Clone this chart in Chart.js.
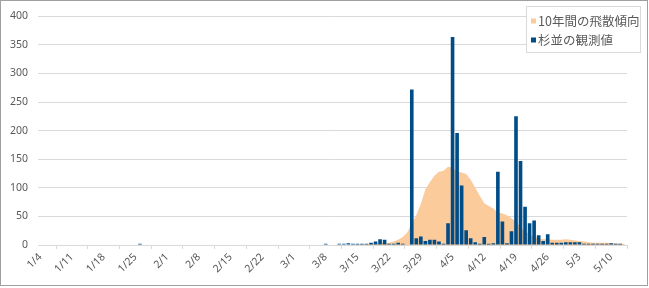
<!DOCTYPE html>
<html><head><meta charset="utf-8">
<script src="https://cdn.jsdelivr.net/npm/chart.js@4"></script>
<style>
html,body{margin:0;padding:0;background:#fff}
#wrap{position:relative;width:649px;height:288px}
#frame{position:absolute;left:0;top:0;width:646px;height:284px;border:1px solid #a0a0a0;pointer-events:none}
canvas{position:absolute;left:0;top:0}
</style></head>
<body><div id="wrap"><canvas id="c" width="649" height="288"></canvas><div id="frame"></div></div>
<script>
const categories = [
'1/4','1/5','1/6','1/7','1/8','1/9','1/10','1/11','1/12','1/13','1/14','1/15','1/16','1/17','1/18','1/19','1/20','1/21','1/22','1/23','1/24','1/25','1/26','1/27','1/28','1/29','1/30','1/31',
'2/1','2/2','2/3','2/4','2/5','2/6','2/7','2/8','2/9','2/10','2/11','2/12','2/13','2/14','2/15','2/16','2/17','2/18','2/19','2/20','2/21','2/22','2/23','2/24','2/25','2/26','2/27','2/28',
'3/1','3/2','3/3','3/4','3/5','3/6','3/7','3/8','3/9','3/10','3/11','3/12','3/13','3/14','3/15','3/16','3/17','3/18','3/19','3/20','3/21','3/22','3/23','3/24','3/25','3/26','3/27','3/28','3/29','3/30','3/31',
'4/1','4/2','4/3','4/4','4/5','4/6','4/7','4/8','4/9','4/10','4/11','4/12','4/13','4/14','4/15','4/16','4/17','4/18','4/19','4/20','4/21','4/22','4/23','4/24','4/25','4/26','4/27','4/28','4/29','4/30',
'5/1','5/2','5/3','5/4','5/5','5/6','5/7','5/8','5/9','5/10','5/11','5/12','5/13'
];
const tickLabels = ['1/4','1/11','1/18','1/25','2/1','2/8','2/15','2/22','3/1','3/8','3/15','3/22','3/29','4/5','4/12','4/19','4/26','5/3','5/10'];
const yTicks = [0,50,100,150,200,250,300,350,400];

const trendLabel = '10年間の飛散傾向';
const trend10y = [
0,0,0,0,0,0,0,0,0,0,
0,0,0,0,0,0,0,0,0,0,
0,0,0,0,0,0,0,0,0,0,
0,0,0,0,0,0,0,0,0,0,
0,0,0,0,0,0,0,0,0,0,
0,0,0,0,0,0,0,0,0,0,
0,0,0,0,0,0,0,0,0,0,
1,1,1,2,2,3,4,4,6,9,
14,22,38,52,72,97,110,121,128,130,
137,135,128,127,124,114,100,86,73,68,
64,57,55,52,47,41,31,24,19,14,
12,10,10,9,9,9,10,9,8,7,
6,5,4,4,4,4,3,3,2,2
];

const obsLabel = '杉並の観測値';
const suginami = [
null,null,null,null,null,null,null,null,null,null,
null,null,null,null,null,null,null,null,null,null,
null,null,2,null,null,null,null,null,null,null,
null,null,null,null,null,null,null,null,null,null,
null,null,null,null,null,null,null,null,null,null,
null,null,null,null,null,null,null,null,null,null,
null,null,null,2,null,null,2,2,3,2,
2,2,2,4,6,10,9,2,2,4,
2,null,272,12,15,7,9,9,6,2,
38,364,196,104,26,12,5,2,14,2,
3,128,41,3,24,225,147,67,38,43,
17,7,19,4,4,4,5,5,5,5,
2,2,2,2,2,2,3,2,2,null
];

const ORANGE = '#fbcb9c';
const BLUE = '#004c87';
const GRAY_TXT = '#595959';
const GRID = '#d9d9d9';

const boxLegend = {
  id: 'boxLegend',
  afterDraw(chart) {
    const ctx = chart.ctx;
    ctx.save();
    const x0 = 526.5, y0 = 6.5, w = 114, h = 46;
    ctx.fillStyle = '#fff';
    ctx.fillRect(x0, y0, w, h);
    ctx.strokeStyle = GRID;
    ctx.lineWidth = 1;
    ctx.strokeRect(x0, y0, w, h);
    ctx.font = '12.5px "Noto Sans CJK JP"';
    ctx.textBaseline = 'middle';
    const rows = [21, 40];
    chart.data.datasets.forEach((ds, i) => {
      const y = rows[i];
      ctx.fillStyle = ds.swatch;
      ctx.fillRect(531, y - 2.5, 5, 5);
      ctx.fillStyle = GRAY_TXT;
      ctx.fillText(ds.label, 538, y);
    });
    ctx.restore();
  }
};

new Chart(document.getElementById('c'), {
  data: {
    labels: categories,
    datasets: [
      { type: 'line', label: trendLabel, data: trend10y, swatch: ORANGE,
        backgroundColor: ORANGE, borderWidth: 0, borderColor: ORANGE, pointRadius: 0,
        fill: 'origin', tension: 0, order: 2 },
      { type: 'bar', label: obsLabel, data: suginami, swatch: BLUE,
        backgroundColor: BLUE, borderWidth: 0, barPercentage: 0.8, categoryPercentage: 1, order: 1 }
    ]
  },
  options: {
    responsive: false,
    animation: false,
    layout: { padding: { left: 0, right: 22, top: 14, bottom: 0 } },
    plugins: { legend: { display: false }, tooltip: { enabled: false } },
    scales: {
      x: {
        type: 'category',
        offset: true,
        grid: { display: true, drawOnChartArea: false, drawTicks: true, tickLength: 4, color: GRID, offset: true },
        border: { display: true, color: GRID },
        ticks: {
          autoSkip: false, minRotation: 45, maxRotation: 45, padding: 2,
          color: GRAY_TXT, font: { family: 'Noto Sans', size: 10.5 },
          callback: function(v, i) { const l = categories[i]; return tickLabels.includes(l) ? l : null; }
        },
        afterFit: s => { s.height = 43; }
      },
      y: {
        min: 0, max: 400,
        afterBuildTicks: s => { s.ticks = yTicks.map(v => ({ value: v })); },
        grid: { color: GRID, drawTicks: false },
        border: { display: false },
        ticks: { padding: 10, color: GRAY_TXT, font: { family: 'Noto Sans', size: 10.5 } },
        afterFit: s => { s.width = 38; }
      }
    }
  },
  plugins: [boxLegend]
});
</script>
</body></html>
